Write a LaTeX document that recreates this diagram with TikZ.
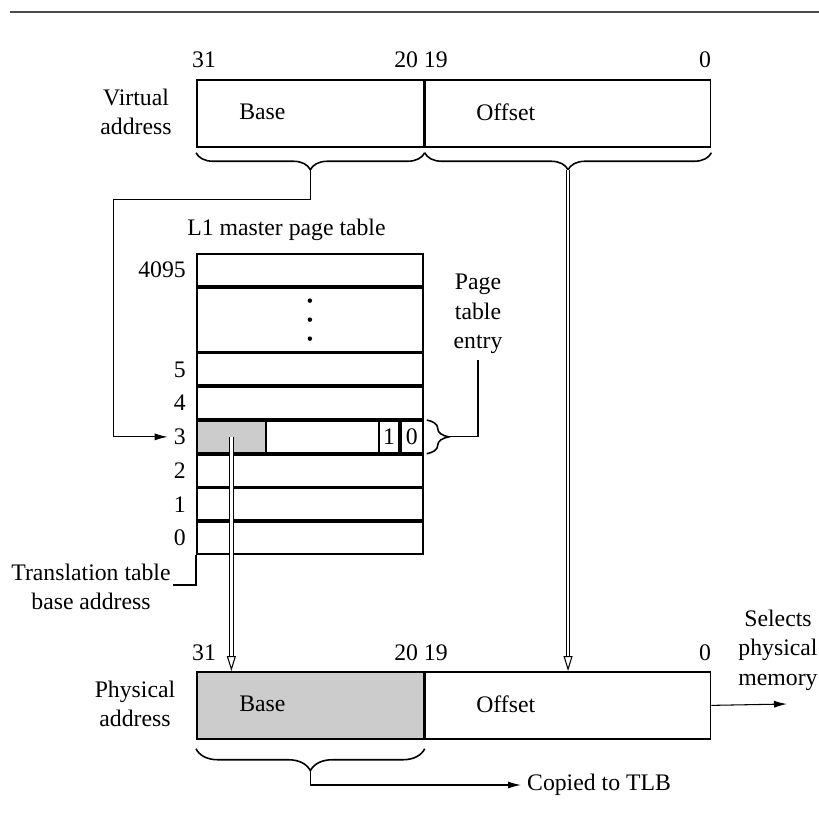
\documentclass[tikz,border=0pt]{standalone}
\usepackage{fontspec}
\setmainfont{Liberation Serif}
\usepackage{tikz}
\usetikzlibrary{arrows.meta,positioning,calc,decorations.pathreplacing}
\definecolor{shade}{gray}{0.8}
\definecolor{rulegray}{gray}{0.3}

\begin{document}
\begin{tikzpicture}[x=0.02cm,y=-0.02cm,>={Latex[length=0.26cm,width=0.14cm]},
  every node/.style={font=\fontsize{13.5}{16.8}\selectfont},
  field/.style={draw,line width=1pt,inner sep=0pt,minimum height=1.34cm,anchor=north west},
  tabrow/.style={draw,line width=1pt,inner sep=0pt,minimum width=4.52cm,minimum height=0.64cm},
  cellbox/.style={draw,line width=1pt,inner sep=0pt,minimum height=0.64cm},
  brc/.style={decorate,decoration={brace,amplitude=#1},line width=0.9pt},
  conn/.style={line width=0.6pt},
  dbl/.style={double,double distance=1.6pt,line width=0.5pt,shorten >=0.3cm},
  hollow/.style={line width=0.6pt,-{Triangle[open,length=0.3cm,width=0.18cm]}}]
\useasboundingbox (0,0) rectangle (819,833);
% rule on top
\draw[rulegray,line width=1.2pt] (10,12) -- (819,12);
% virtual address
\node[field,minimum width=4.54cm] (vbase) at (196,79) {};
\node[field,minimum width=5.7cm,right=0pt of vbase] (voff) {};
\node[anchor=west,inner sep=0pt] (vbtxt) at (239,112) {Base};
\node[anchor=west,inner sep=0pt] (votxt) at (476,112) {Offset};
\node (v31) at (204,60) {31};
\node (v2019) at (421,60) {20 19};
\node (v0) at (705,60) {0};
\node[align=center] (vlab) at (136,112) {Virtual\\address};
\draw[brc=0.34cm] ($(vbase.south east)+(0,5)$) -- ($(vbase.south west)+(0,5)$);
\draw[brc=0.34cm] ($(voff.south east)+(0,5)$) -- ($(voff.south west)+(0,5)$);
\coordinate (vbtip) at ($(vbase.south)+(0,22)$);
\coordinate (votip) at ($(voff.south)+(0,22)$);
% L1 master page table
\node[anchor=west,inner sep=0pt] (l1) at (187,230) {L1 master page table};
\node[tabrow,anchor=north west] (r4095) at (196,253) {};
\node[tabrow,minimum height=1.28cm,below=0pt of r4095] (rdots) {};
\node[tabrow,below=0pt of rdots] (r5) {};
\node[tabrow,below=0pt of r5] (r4) {};
\node[tabrow,below=0pt of r4] (r3) {};
\node[tabrow,below=0pt of r3] (r2) {};
\node[tabrow,below=0pt of r2] (r1) {};
\node[tabrow,below=0pt of r1] (r0) {};
\foreach \dy in {-19,0,19}
  \fill ($(rdots.center)+(0,\dy)$) circle[radius=0.045cm];
\node[left=0.08cm of r4095] (l4095) {4095};
\node[left=0.08cm of r5] (l5) {5};
\node[left=0.08cm of r4] (l4) {4};
\node[left=0.08cm of r3] (l3) {3};
\node[left=0.08cm of r2] (l2) {2};
\node[left=0.08cm of r1] (l1b) {1};
\node[left=0.08cm of r0] (l0) {0};
% entry 3
\node[cellbox,fill=shade,minimum width=1.38cm,anchor=north west] (tbase) at (r3.north west) {};
\node[cellbox,minimum width=0.44cm,anchor=north east] (bit0) at (r3.north east) {0};
\node[cellbox,minimum width=0.4cm,anchor=north east] (bit1) at (bit0.north west) {1};
\draw[brc=0.44cm] ($(r3.north east)+(3,0)$) -- ($(r3.south east)+(3,0)$);
\coordinate (ptip) at ($(r3.east)+(25,0)$);
\node[align=center] (pte) at (478,314) {Page\\table\\entry};
\draw[conn] (ptip) -| (pte.south);
% base from virtual address into the table
\draw[conn,->] (vbtip) -- ++(0,30) -| ($(l3.west)+(-54,0)$) -- (l3.west);
% translation table base
\node[align=center] (ttb) at (91,587) {Translation table\\base address};
\draw[conn] (r0.south west) |- ($(ttb.east)+(-4,-2)$);
% physical address
\node[field,fill=shade,minimum width=4.54cm] (pbase) at (196,671) {};
\node[field,minimum width=5.7cm,right=0pt of pbase] (poff) {};
\node[anchor=west,inner sep=0pt] (pbtxt) at (239,704) {Base};
\node[anchor=west,inner sep=0pt] (potxt) at (476,704) {Offset};
\node (p31) at (204,653) {31};
\node (p2019) at (421,653) {20 19};
\node (p0) at (705,653) {0};
\node[align=center] (plab) at (135,704) {Physical\\address};
% hollow arrows
\draw[dbl] (tbase.center) -- (tbase.center |- pbase.north);
\draw[hollow] ($(tbase.center |- pbase.north)+(0,-15)$) -- (tbase.center |- pbase.north);
\draw[dbl] (votip) -- (votip |- poff.north);
\draw[hollow] ($(votip |- poff.north)+(0,-15)$) -- (votip |- poff.north);
% outputs
\coordinate (selend) at (787,704);
\draw[conn,->] (poff.east) -- (selend);
\node[align=center] (sel) at (778,650) {Selects\\physical\\memory};
\draw[brc=0.44cm] ($(pbase.south east)+(0,9)$) -- ($(pbase.south west)+(0,9)$);
\coordinate (pbtip) at ($(pbase.south)+(0,31)$);
\node[anchor=west] (tlb) at (521,785) {Copied to TLB};
\draw[conn,->] (pbtip) |- (tlb.west);
\end{tikzpicture}
\end{document}
